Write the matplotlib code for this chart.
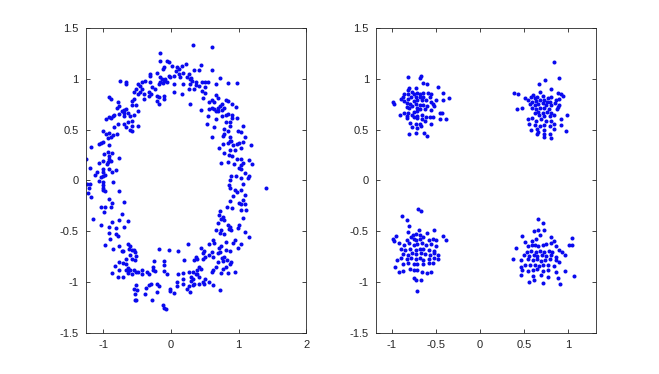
import matplotlib
matplotlib.use("Agg")
import matplotlib.pyplot as plt

# ---- left panel: noisy ring (x, y) ----
ring_top_left = [
    (-0.16, 1.25), (-0.16, 1.18), (-0.06, 1.18), (-0.03, 1.17), (-0.10, 1.12), (-0.12, 1.10),
    (0.01, 1.13), (0.09, 1.12), (0.12, 1.10), (0.16, 1.13), (0.22, 1.15), (-0.21, 1.06),
    (-0.31, 1.05), (-0.31, 1.03), (-0.16, 1.02), (-0.13, 1.00), (-0.10, 0.98), (-0.06, 0.97),
    (-0.16, 0.97), (-0.18, 0.95), (-0.12, 0.96), (-0.09, 1.00), (-0.03, 1.03), (-0.01, 1.02),
    (0.04, 1.03), (0.07, 1.08), (0.12, 1.05), (0.18, 1.06), (0.24, 1.02), (0.28, 1.00),
    (0.28, 0.95), (0.27, 0.90), (0.18, 0.95), (0.13, 1.02), (0.04, 0.95), (0.16, 0.85),
    (0.04, 0.87), (0.28, 0.75), (-0.75, 0.98), (-0.66, 0.97), (-0.67, 0.95), (-0.48, 0.95),
    (-0.43, 0.97), (-0.39, 0.98), (-0.46, 0.93), (-0.51, 0.90), (-0.43, 0.90), (-0.54, 0.87),
    (-0.46, 0.87), (-0.31, 0.97), (-0.28, 0.92), (-0.24, 0.90), (-0.33, 0.87), (-0.30, 0.85),
    (-0.21, 0.83), (-0.18, 0.82), (-0.10, 0.83), (-0.10, 0.80), (-0.21, 0.78), (-0.18, 0.75),
    (-0.40, 0.80), (-0.33, 0.83), (-0.40, 0.85), (-0.48, 0.85), (-0.91, 0.82), (-0.88, 0.80),
    (-0.78, 0.77), (-0.76, 0.73), (-0.79, 0.71), (-0.70, 0.69), (-0.66, 0.70), (-0.73, 0.68),
    (-0.69, 0.66), (-0.76, 0.65), (-0.84, 0.64), (-0.85, 0.63), (-0.88, 0.61), (-0.91, 0.62),
    (-0.96, 0.60), (-0.63, 0.66), (-0.61, 0.63), (-0.70, 0.63), (-0.58, 0.78), (-0.55, 0.80),
    (-0.58, 0.74), (-0.51, 0.74), (-0.48, 0.68), (-0.54, 0.64), (-0.58, 0.59), (-0.63, 0.58),
    (-0.57, 0.54), (-0.48, 0.54), (-0.66, 0.53), (-0.70, 0.56), (-0.78, 0.56), (-0.84, 0.53),
]
ring_top_right = [
    (0.33, 1.33), (0.61, 1.31), (0.45, 1.14), (0.42, 1.09), (0.34, 1.09), (0.60, 1.09),
    (0.27, 1.05), (0.30, 1.01), (0.31, 0.98), (0.37, 0.97), (0.34, 0.90), (0.42, 0.93),
    (0.46, 0.97), (0.51, 0.97), (0.55, 0.97), (0.51, 0.92), (0.46, 0.88), (0.37, 0.94),
    (0.73, 1.01), (0.66, 0.95), (0.84, 0.96), (0.97, 0.96), (0.51, 0.86), (0.48, 0.81),
    (0.67, 0.84), (0.70, 0.81), (0.60, 0.79), (0.57, 0.77), (0.64, 0.77), (0.81, 0.79),
    (0.84, 0.78), (0.91, 0.75), (0.96, 0.72), (0.75, 0.75), (0.73, 0.73), (0.69, 0.71),
    (0.64, 0.70), (0.61, 0.71), (0.57, 0.70), (0.76, 0.69), (0.70, 0.68), (0.67, 0.68),
    (0.79, 0.71), (0.45, 0.69), (0.55, 0.63), (0.67, 0.60), (0.54, 0.56), (0.64, 0.53),
    (0.76, 0.63), (0.81, 0.64), (0.84, 0.65), (0.90, 0.64), (0.91, 0.61), (0.87, 0.58),
    (0.81, 0.58), (0.87, 0.54), (0.79, 0.51), (0.84, 0.49), (0.99, 0.49), (1.04, 0.48),
    (1.06, 0.54), (0.97, 0.61),
]
ring_left = [
    (-1.01, 0.49), (-0.96, 0.46), (-0.91, 0.47), (-0.85, 0.45), (-0.79, 0.46), (-0.88, 0.43),
    (-0.61, 0.50), (-0.57, 0.49), (-1.18, 0.33), (-1.07, 0.36), (-1.04, 0.37), (-1.01, 0.38),
    (-0.91, 0.35), (-0.93, 0.42), (-1.26, 0.21), (-1.07, 0.17), (-1.00, 0.19), (-0.99, 0.26),
    (-0.93, 0.28), (-0.87, 0.27), (-0.91, 0.24), (-0.91, 0.21), (-0.93, 0.18), (-0.94, 0.16),
    (-0.88, 0.19), (-0.76, 0.22), (-1.19, 0.12), (-1.09, 0.08), (-1.12, 0.05), (-1.00, 0.11),
    (-1.00, 0.08), (-1.01, 0.04), (-1.04, 0.03), (-0.97, 0.05), (-0.91, 0.11), (-0.87, 0.08),
    (-0.81, 0.10), (-1.06, -0.01), (-1.00, -0.02), (-0.85, -0.02), (-1.24, -0.03), (-1.19, -0.03),
    (-1.21, -0.07), (-1.22, -0.12), (-1.18, -0.16), (-1.01, -0.04), (-1.01, -0.07), (-1.00, -0.09),
    (-0.97, -0.10), (-0.76, -0.10), (-0.91, -0.18), (-0.87, -0.22), (-0.70, -0.21), (-1.03, -0.26),
    (-0.97, -0.26), (-0.99, -0.31), (-0.88, -0.26), (-0.72, -0.33), (-1.15, -0.38), (-0.76, -0.39),
    (-0.87, -0.41), (-0.63, -0.40), (-0.70, -0.46), (-1.03, -0.44), (-0.91, -0.46), (-0.81, -0.47),
    (-0.91, -0.52), (-0.81, -0.53),
]
ring_right = [
    (0.61, 0.43), (0.77, 0.44), (0.79, 0.46), (0.87, 0.43), (1.09, 0.43), (1.06, 0.38),
    (1.01, 0.37), (0.97, 0.36), (0.92, 0.35), (0.87, 0.39), (0.84, 0.37), (0.77, 0.36),
    (0.71, 0.32), (0.89, 0.39), (1.19, 0.35), (1.04, 0.32), (0.94, 0.30), (0.87, 0.30),
    (0.86, 0.25), (0.91, 0.24), (0.78, 0.27), (0.74, 0.17), (0.84, 0.18), (0.93, 0.16),
    (0.98, 0.21), (1.04, 0.21), (1.16, 0.20), (1.20, 0.16), (1.06, 0.17), (1.04, 0.15),
    (1.01, 0.12), (1.04, 0.11), (1.09, 0.07), (1.15, 0.04), (1.14, 0.02), (1.04, 0.02),
    (0.96, 0.04), (0.89, 0.04), (0.87, 0.00), (0.86, -0.04), (0.87, -0.07), (0.94, -0.09),
    (0.97, -0.11), (1.06, -0.03), (1.04, -0.09), (1.10, -0.14), (1.07, -0.19), (1.01, -0.22),
    (1.04, -0.23), (1.09, -0.23), (1.11, -0.29), (1.04, -0.29), (0.92, -0.15), (0.87, -0.20),
    (0.83, -0.26), (0.91, -0.27), (0.72, -0.30), (0.71, -0.34), (0.77, -0.36), (0.74, -0.38),
    (0.79, -0.39), (0.69, -0.42), (0.84, -0.44), (0.87, -0.46), (0.86, -0.48), (0.89, -0.49),
    (1.00, -0.44), (0.99, -0.47), (1.06, -0.37), (0.66, -0.49), (0.74, -0.49), (0.72, -0.52),
    (0.79, -0.53), (1.10, -0.51), (1.41, -0.07),
]
ring_bottom_left = [
    (-0.90, -0.58), (-0.78, -0.55), (-0.98, -0.64), (-0.86, -0.67), (-0.77, -0.65), (-0.73, -0.69),
    (-0.71, -0.69), (-0.63, -0.63), (-0.61, -0.65), (-0.62, -0.67), (-0.58, -0.68), (-0.55, -0.68),
    (-0.53, -0.70), (-0.52, -0.74), (-0.61, -0.73), (-0.57, -0.77), (-0.53, -0.78), (-0.66, -0.77),
    (-0.71, -0.81), (-0.67, -0.82), (-0.76, -0.80), (-0.82, -0.84), (-0.76, -0.88), (-0.87, -0.91),
    (-0.78, -0.95), (-0.71, -0.95), (-0.63, -0.86), (-0.62, -0.88), (-0.66, -0.88), (-0.60, -0.88),
    (-0.55, -0.88), (-0.52, -0.90), (-0.63, -0.91), (-0.57, -0.92), (-0.48, -0.90), (-0.43, -0.88),
    (-0.43, -0.92), (-0.36, -0.90), (-0.33, -0.92), (-0.25, -0.79), (-0.27, -0.85), (-0.27, -0.88),
    (-0.23, -0.89), (-0.18, -0.67), (-0.10, -0.79), (-0.10, -0.83), (-0.06, -0.92), (-0.10, -0.89),
    (-0.03, -0.68), (0.11, -0.69), (0.20, -0.78), (0.10, -0.92), (0.18, -0.91), (0.26, -0.90),
    (0.29, -0.95), (0.18, -0.97), (0.09, -1.00), (0.25, -0.63), (-0.51, -1.03), (-0.55, -1.07),
    (-0.50, -1.08), (-0.53, -1.12), (-0.51, -1.18), (-0.53, -1.18), (-0.37, -1.06), (-0.38, -1.12),
    (-0.28, -1.18), (-0.30, -1.02), (-0.21, -1.02), (-0.18, -1.04), (-0.20, -1.10), (-0.33, -1.03),
    (-0.11, -1.23), (-0.08, -1.27), (-0.10, -1.26), (-0.01, -1.07), (-0.02, -1.09), (0.04, -1.11),
    (0.09, -1.04), (0.18, -1.02), (0.24, -1.07), (0.28, -1.10), (0.26, -1.04),
]
ring_bottom_right = [
    (1.16, -0.56), (0.62, -0.59), (0.57, -0.63), (0.64, -0.62), (0.71, -0.66), (0.74, -0.65),
    (0.82, -0.61), (0.94, -0.59), (0.92, -0.62), (1.04, -0.63), (0.99, -0.66), (0.81, -0.68),
    (0.87, -0.69), (0.73, -0.70), (0.69, -0.71), (0.61, -0.70), (0.57, -0.73), (0.49, -0.69),
    (0.47, -0.71), (0.44, -0.66), (0.51, -0.75), (0.48, -0.77), (0.39, -0.77), (0.34, -0.78),
    (0.37, -0.75), (0.62, -0.75), (0.79, -0.75), (0.76, -0.76), (0.69, -0.80), (0.77, -0.79),
    (0.83, -0.78), (0.89, -0.80), (0.87, -0.82), (0.82, -0.85), (0.67, -0.85), (0.62, -0.88),
    (0.61, -0.90), (0.77, -0.87), (0.74, -0.91), (0.84, -0.91), (0.94, -0.90), (0.44, -0.87),
    (0.42, -0.85), (0.38, -0.88), (0.37, -0.92), (0.32, -0.90), (0.39, -0.92), (0.41, -0.95),
    (0.33, -0.97), (0.29, -0.99), (0.34, -1.02), (0.32, -1.03), (0.51, -0.97), (0.47, -1.00),
    (0.42, -1.02), (0.49, -1.02), (0.56, -1.00), (0.62, -1.03), (0.72, -1.08),
]

# ---- right panel: four blobs ----
blob_top_left = [
    (-0.82, 1.02), (-0.68, 1.01), (-0.67, 1.03), (-0.65, 0.96), (-0.60, 0.95), (-0.48, 0.92),
    (-0.72, 0.91), (-0.80, 0.91), (-0.81, 0.89), (-0.77, 0.87), (-0.75, 0.85), (-0.82, 0.85),
    (-0.86, 0.85), (-0.87, 0.82), (-0.90, 0.80), (-0.71, 0.86), (-0.68, 0.85), (-0.64, 0.86),
    (-0.59, 0.86), (-0.56, 0.85), (-0.57, 0.82), (-0.64, 0.82), (-0.68, 0.82), (-0.73, 0.82),
    (-0.78, 0.82), (-0.82, 0.80), (-0.86, 0.78), (-0.75, 0.78), (-0.71, 0.79), (-0.66, 0.79),
    (-0.61, 0.79), (-0.56, 0.77), (-0.53, 0.75), (-0.50, 0.79), (-0.42, 0.86), (-0.42, 0.79),
    (-0.35, 0.81), (-0.99, 0.77), (-0.97, 0.75), (-0.83, 0.76), (-0.79, 0.75), (-0.73, 0.75),
    (-0.68, 0.74), (-0.65, 0.74), (-0.60, 0.73), (-0.52, 0.73), (-0.77, 0.73), (-0.83, 0.72),
    (-0.80, 0.71), (-0.71, 0.71), (-0.68, 0.70), (-0.62, 0.70), (-0.56, 0.69), (-0.71, 0.68),
    (-0.75, 0.67), (-0.81, 0.66), (-0.86, 0.66), (-0.91, 0.64), (-0.83, 0.63), (-0.77, 0.64),
    (-0.71, 0.63), (-0.66, 0.64), (-0.61, 0.62), (-0.57, 0.62), (-0.53, 0.62), (-0.45, 0.66),
    (-0.43, 0.66), (-0.75, 0.62), (-0.71, 0.61), (-0.66, 0.60), (-0.83, 0.61), (-0.79, 0.57),
    (-0.73, 0.56), (-0.68, 0.56), (-0.62, 0.59), (-0.56, 0.56), (-0.45, 0.60), (-0.39, 0.60),
    (-0.77, 0.53), (-0.67, 0.54), (-0.71, 0.52), (-0.80, 0.46), (-0.73, 0.47), (-0.63, 0.47),
    (-0.60, 0.44),
]
blob_top_right = [
    (0.84, 1.17), (0.90, 1.01), (0.74, 0.99), (0.67, 0.95), (0.39, 0.86), (0.43, 0.85),
    (0.80, 0.90), (0.68, 0.87), (0.51, 0.81), (0.58, 0.82), (0.60, 0.84), (0.62, 0.81),
    (0.65, 0.82), (0.72, 0.83), (0.77, 0.81), (0.81, 0.82), (0.89, 0.86), (0.92, 0.85),
    (0.94, 0.83), (0.55, 0.79), (0.59, 0.77), (0.63, 0.78), (0.68, 0.79), (0.73, 0.79),
    (0.76, 0.77), (0.79, 0.77), (0.86, 0.79), (0.90, 0.80), (0.57, 0.75), (0.62, 0.74),
    (0.66, 0.75), (0.71, 0.76), (0.75, 0.74), (0.81, 0.74), (0.85, 0.76), (0.90, 0.74),
    (0.42, 0.70), (0.48, 0.71), (0.59, 0.71), (0.64, 0.70), (0.68, 0.71), (0.73, 0.71),
    (0.78, 0.70), (0.87, 0.70), (0.89, 0.72), (0.62, 0.66), (0.66, 0.67), (0.71, 0.66),
    (0.76, 0.67), (0.81, 0.66), (0.67, 0.64), (0.73, 0.63), (0.79, 0.63), (0.84, 0.64),
    (0.99, 0.64), (0.54, 0.60), (0.59, 0.61), (0.63, 0.59), (0.69, 0.60), (0.75, 0.59),
    (0.81, 0.59), (0.92, 0.60), (0.56, 0.56), (0.62, 0.55), (0.68, 0.54), (0.73, 0.55),
    (0.79, 0.54), (0.84, 0.56), (0.92, 0.55), (0.58, 0.50), (0.65, 0.51), (0.66, 0.48),
    (0.73, 0.50), (0.84, 0.51), (0.98, 0.49), (0.73, 0.46), (0.79, 0.46), (0.73, 0.43),
    (0.81, 0.42), (0.65, 0.46),
]
blob_bottom_left = [
    (-0.70, -0.28), (-0.67, -0.30), (-0.88, -0.35), (-0.83, -0.39), (-0.80, -0.45), (-0.69, -0.49),
    (-0.52, -0.49), (-0.81, -0.51), (-0.76, -0.54), (-0.72, -0.53), (-0.68, -0.54), (-0.60, -0.52),
    (-0.95, -0.55), (-0.98, -0.58), (-0.97, -0.60), (-0.83, -0.59), (-0.78, -0.56), (-0.75, -0.58),
    (-0.72, -0.59), (-0.68, -0.58), (-0.64, -0.56), (-0.58, -0.59), (-0.53, -0.58), (-0.50, -0.59),
    (-0.42, -0.55), (-0.38, -0.59), (-0.92, -0.62), (-0.86, -0.64), (-0.80, -0.62), (-0.75, -0.64),
    (-0.71, -0.63), (-0.66, -0.62), (-0.61, -0.64), (-0.56, -0.63), (-0.50, -0.65), (-0.90, -0.67),
    (-0.85, -0.68), (-0.79, -0.67), (-0.73, -0.68), (-0.68, -0.67), (-0.64, -0.67), (-0.58, -0.68),
    (-0.52, -0.69), (-0.87, -0.72), (-0.82, -0.73), (-0.77, -0.71), (-0.72, -0.72), (-0.67, -0.71),
    (-0.62, -0.72), (-0.57, -0.73), (-0.52, -0.71), (-0.48, -0.73), (-0.94, -0.78), (-0.90, -0.76),
    (-0.83, -0.77), (-0.78, -0.76), (-0.73, -0.77), (-0.68, -0.76), (-0.64, -0.78), (-0.58, -0.77),
    (-0.52, -0.76), (-0.48, -0.77), (-0.96, -0.85), (-0.87, -0.82), (-0.81, -0.81), (-0.75, -0.82),
    (-0.71, -0.82), (-0.65, -0.82), (-0.58, -0.81), (-0.53, -0.81), (-0.92, -0.90), (-0.87, -0.89),
    (-0.79, -0.87), (-0.75, -0.88), (-0.71, -0.88), (-0.66, -0.90), (-0.60, -0.91), (-0.56, -0.90),
    (-0.75, -0.96), (-0.73, -0.98), (-0.67, -0.98), (-0.71, -1.09),
]
blob_bottom_right = [
    (0.66, -0.38), (0.72, -0.42), (0.61, -0.50), (0.66, -0.49), (0.73, -0.49), (0.68, -0.54),
    (0.48, -0.55), (0.51, -0.61), (0.59, -0.60), (0.63, -0.58), (0.80, -0.56), (0.84, -0.60),
    (1.04, -0.57), (0.41, -0.66), (0.54, -0.65), (0.59, -0.64), (0.62, -0.64), (0.66, -0.65),
    (0.71, -0.64), (0.75, -0.63), (0.81, -0.62), (0.86, -0.65), (1.01, -0.64), (1.04, -0.64),
    (0.53, -0.70), (0.58, -0.69), (0.63, -0.70), (0.68, -0.69), (0.73, -0.70), (0.78, -0.69),
    (0.82, -0.70), (0.90, -0.68), (0.93, -0.70), (0.50, -0.73), (0.56, -0.74), (0.61, -0.73),
    (0.65, -0.74), (0.70, -0.73), (0.75, -0.74), (0.81, -0.73), (0.86, -0.75), (0.96, -0.73),
    (0.38, -0.77), (0.47, -0.78), (0.54, -0.77), (0.60, -0.78), (0.65, -0.77), (0.69, -0.79),
    (0.74, -0.78), (0.79, -0.77), (0.86, -0.78), (0.90, -0.80), (0.51, -0.83), (0.57, -0.83),
    (0.62, -0.83), (0.67, -0.84), (0.72, -0.83), (0.77, -0.83), (0.84, -0.84), (0.46, -0.85),
    (0.48, -0.88), (0.54, -0.89), (0.60, -0.88), (0.65, -0.87), (0.71, -0.89), (0.77, -0.88),
    (0.86, -0.90), (0.96, -0.89), (0.46, -0.93), (0.60, -0.94), (0.69, -0.93), (0.77, -0.95),
    (0.89, -0.96), (1.07, -0.94), (0.56, -1.00), (0.61, -0.98), (0.71, -1.01), (0.91, -1.02),
]

left_groups = [ring_top_left, ring_top_right, ring_left, ring_right,
               ring_bottom_left, ring_bottom_right]
right_groups = [blob_top_left, blob_top_right, blob_bottom_left, blob_bottom_right]

left_xticks = [-1, 0, 1, 2]
right_xticks = [-1, -0.5, 0, 0.5, 1]
yticks = [-1.5, -1, -0.5, 0, 0.5, 1, 1.5]

plt.rcParams['font.family'] = ['Liberation Sans', 'DejaVu Sans']
dot_color = '#0a0aee'
text_color = '#262626'


def fmt(v):
    return ('%g' % v)


def style_axes(ax, xticks, xlim):
    ax.set_xlim(*xlim)
    ax.set_ylim(-1.5, 1.5)
    ax.set_xticks(xticks)
    ax.set_xticklabels([fmt(v) for v in xticks])
    ax.set_yticks(yticks)
    ax.set_yticklabels([fmt(v) for v in yticks])
    ax.tick_params(direction='in', length=3, width=0.6, colors=text_color,
                   labelsize=8, top=True, right=True, pad=5)
    for sp in ax.spines.values():
        sp.set_linewidth(0.6)
        sp.set_color(text_color)


fig = plt.figure(figsize=(6.59, 3.74), dpi=100)
ax1 = fig.add_axes([0.13, 0.11, 0.3347, 0.815])
ax2 = fig.add_axes([0.5703, 0.11, 0.3347, 0.815])

for g in left_groups:
    xs = [p[0] for p in g]
    ys = [p[1] for p in g]
    ax1.plot(xs, ys, 'o', color=dot_color, markersize=2.9, markeredgewidth=0)
for g in right_groups:
    xs = [p[0] for p in g]
    ys = [p[1] for p in g]
    ax2.plot(xs, ys, 'o', color=dot_color, markersize=2.9, markeredgewidth=0)

style_axes(ax1, left_xticks, (-1.26, 2))
style_axes(ax2, right_xticks, (-1.18, 1.32))

fig.savefig('out.png', dpi=100, facecolor='white')
